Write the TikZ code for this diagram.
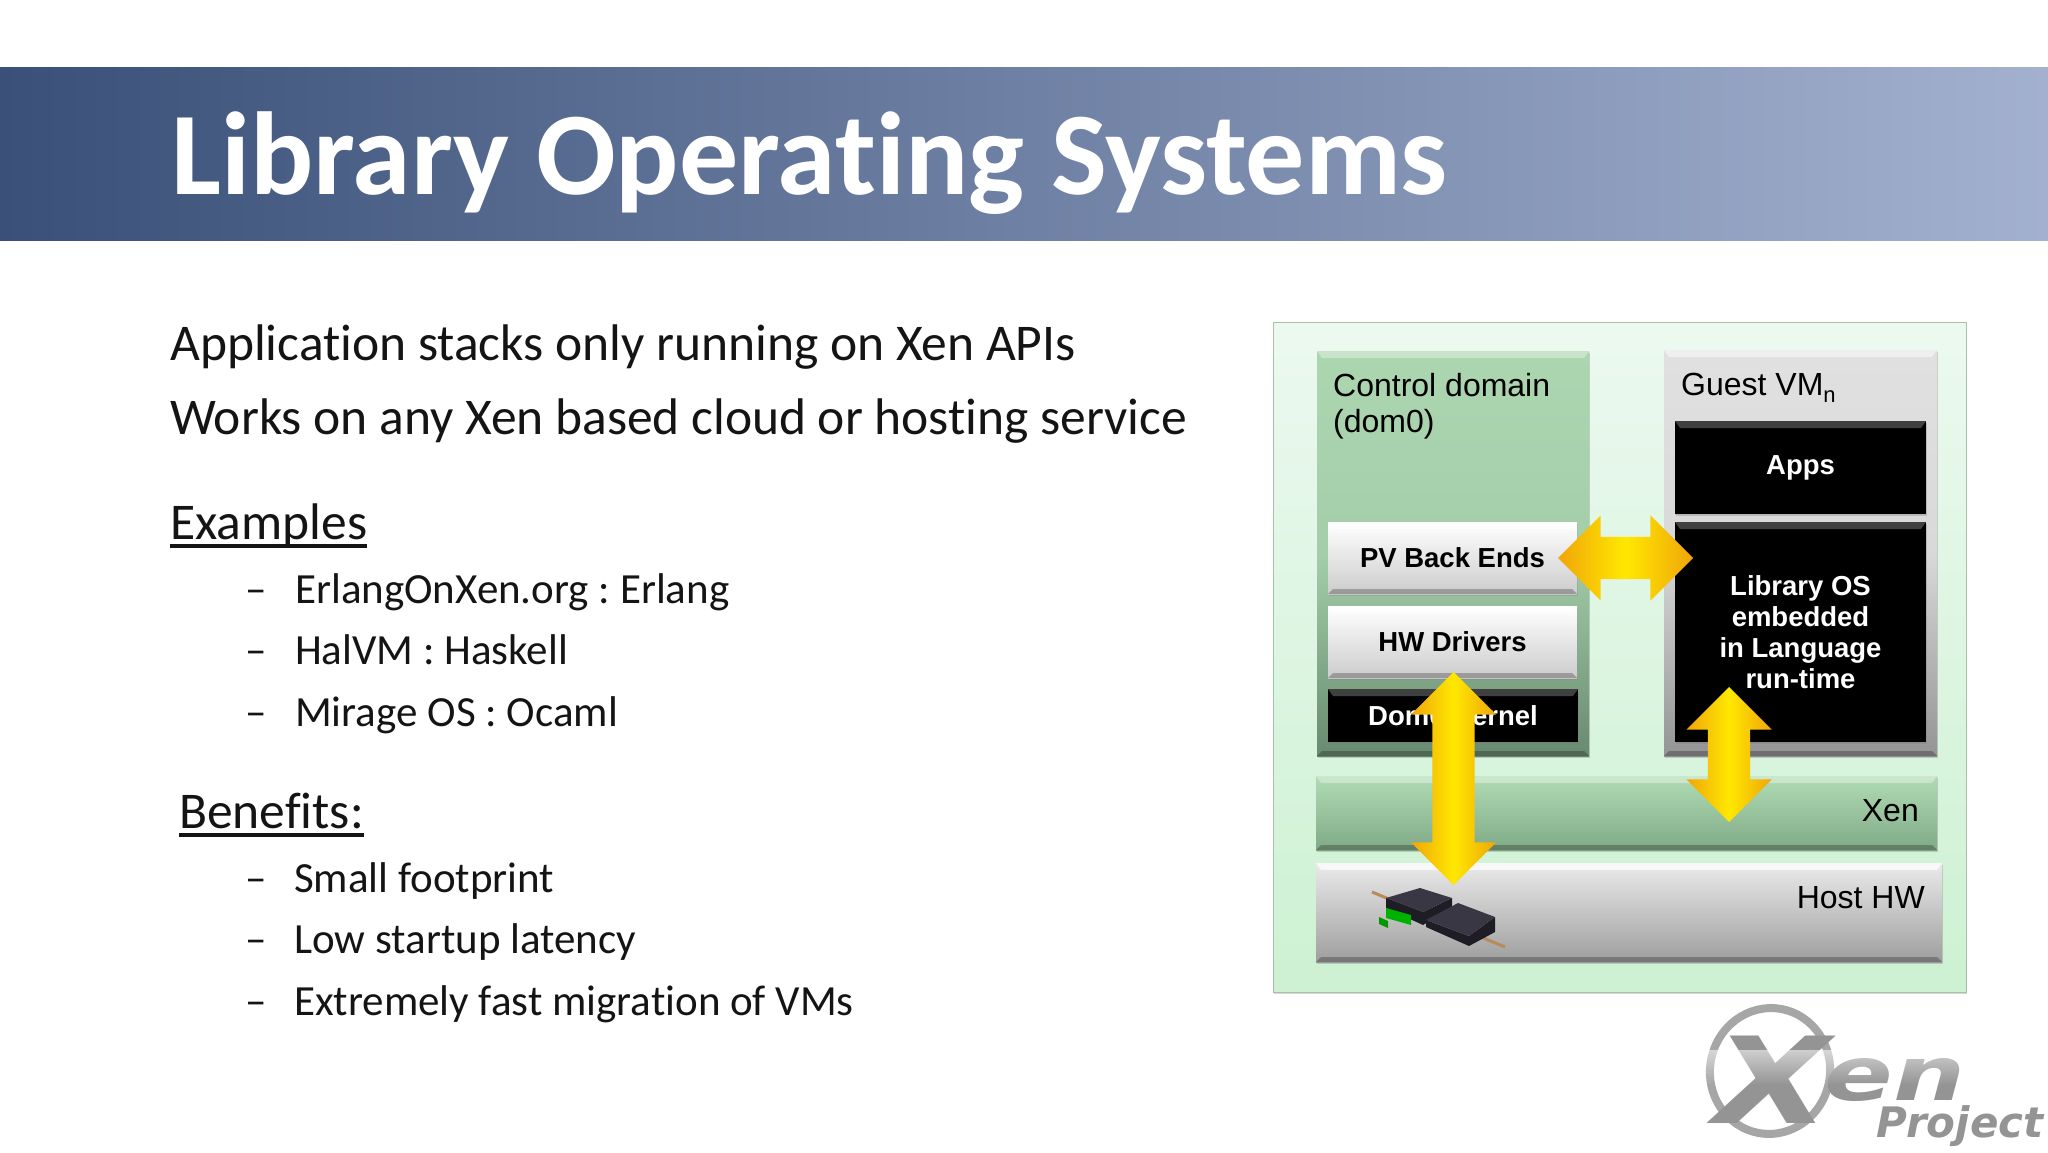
\documentclass[tikz,border=0pt]{standalone}
\usepackage{fontspec}
\setmainfont[Ligatures=CommonOff]{Carlito}
\newfontfamily\arialfont{Liberation Sans}
\newfontfamily\logofont{DejaVu Sans}
\usetikzlibrary{shapes.arrows,shadows,fadings}
\definecolor{bandl}{RGB}{58,80,120}
\definecolor{bandr}{RGB}{163,177,207}
\definecolor{panelt}{RGB}{236,249,240}
\definecolor{panelb}{RGB}{205,241,210}
\definecolor{goldl}{RGB}{240,165,10}
\definecolor{goldm}{RGB}{255,232,0}
\definecolor{inktxt}{RGB}{20,20,20}
\definecolor{domt}{RGB}{172,214,176}
\definecolor{domm}{RGB}{164,206,169}
\definecolor{domb}{RGB}{104,138,112}
\definecolor{xent}{RGB}{176,220,180}
\definecolor{xenb}{RGB}{128,170,135}
\definecolor{devtop}{RGB}{58,55,68}
\definecolor{devside}{RGB}{30,28,36}
\definecolor{rail}{RGB}{184,140,90}
\frenchspacing
\begin{document}
\begin{tikzpicture}[x=1pt, y=-1pt,
                      heading/.style = {
                        anchor=base west, inner sep=0pt, text=white,
                        font=\fontsize{118}{118}\selectfont\bfseries
                      },
                      bodytext/.style = {
                        anchor=base west, inner sep=0pt, text=inktxt,
                        font=\fontsize{51.5}{52}\selectfont
                      },
                      subtext/.style = {
                        anchor=base west, inner sep=0pt, text=inktxt,
                        font=\fontsize{43}{44}\selectfont
                      },
                      underbar/.style = {
                        line width=3.5pt, color=inktxt
                      },
                      bevelbox/.style n args = {3}{
                        minimum width=#1, minimum height=#2, anchor=north west,
                        inner sep=0pt, outer sep=0pt,
                        path picture={
                          \fill[white, opacity=#3]
                            (path picture bounding box.north west) -- (path picture bounding box.north east)
                            -- ([xshift=-5pt,yshift=-7pt]path picture bounding box.north east)
                            -- ([xshift=5pt,yshift=-7pt]path picture bounding box.north west) -- cycle;
                          \fill[black, opacity=.25]
                            (path picture bounding box.south west) -- (path picture bounding box.south east)
                            -- ([xshift=-5pt,yshift=5pt]path picture bounding box.south east)
                            -- ([xshift=5pt,yshift=5pt]path picture bounding box.south west) -- cycle;
                        }
                      },
                      greenbox/.style = {
                        top color=domt, bottom color=domb, middle color=domm,
                        drop shadow={shadow xshift=1pt, shadow yshift=-2pt, opacity=.35}
                      },
                      greybox/.style = {
                        top color=black!12, bottom color=black!42,
                        middle color=black!15,
                        drop shadow={shadow xshift=1pt, shadow yshift=-2pt, opacity=.35}
                      },
                      whitebox/.style = {
                        top color=white, bottom color=black!20, text=black,
                        font=\arialfont\fontsize{27.5}{29}\selectfont\bfseries,
                        drop shadow={shadow xshift=1pt, shadow yshift=-2pt, opacity=.35}
                      },
                      blackbox/.style = {
                        fill=black, text=white, align=center,
                        font=\arialfont\fontsize{27.5}{31}\selectfont\bfseries,
                        drop shadow={shadow xshift=1pt, shadow yshift=-2pt, opacity=.35}
                      },
                      boxlabel/.style = {
                        inner sep=0pt, text=black, align=left,
                        font=\arialfont\fontsize{32}{36}\selectfont
                      },
                      bigarrow/.style = {
                        double arrow, double arrow head extend=21.5pt,
                        double arrow tip angle=90, inner xsep=0pt, inner ysep=21pt, outer sep=0pt,
                        left color=goldl, right color=goldl, middle color=goldm
                      },
                      logotext/.style = {
                        anchor=base, inner sep=0pt, text=black!42
                      }]
    \useasboundingbox (0,0) rectangle (2048,1153);
    \fill[white] (0,0) rectangle (2048,1153);

    % title band
    \node(band)[anchor=north west, inner sep=0pt, minimum width=2048pt, minimum height=173pt,
                left color=bandl, right color=bandr] at (0,67) {};
    \node(title)[heading] at (171,194) {Library Operating Systems};

    % left text
    \node(stacks)[bodytext] at (170,360.5) {Application stacks only running on Xen APIs};
    \node(works)[bodytext] at (170,434.5) {Works on any Xen based cloud or hosting service};
    \node(examples)[bodytext] at (170,539) {Examples};
    \draw[underbar] ([yshift=-7pt]examples.base west) -- ([yshift=-7pt]examples.base east);
    \node(dasha)[subtext] at (245,603) {--};
    \node(erlang)[subtext] at (295,603) {ErlangOnXen.org : Erlang};
    \node(dashb)[subtext] at (245,664.5) {--};
    \node(halvm)[subtext] at (295,664.5) {HalVM : Haskell};
    \node(dashc)[subtext] at (245,726) {--};
    \node(mirage)[subtext] at (295,726) {Mirage OS : Ocaml};
    \node(benefits)[bodytext] at (179,828) {Benefits:};
    \draw[underbar] ([yshift=-7pt]benefits.base west) -- ([yshift=-7pt]benefits.base east);
    \node(dashd)[subtext] at (245,892) {--};
    \node(small)[subtext] at (294,892) {Small footprint};
    \node(dashe)[subtext] at (245,953) {--};
    \node(low)[subtext] at (294,953) {Low startup latency};
    \node(dashf)[subtext] at (245,1015) {--};
    \node(fast)[subtext] at (294,1015) {Extremely fast migration of VMs};

    % diagram
    \node(panel)[anchor=north west, inner sep=0pt, minimum width=693pt, minimum height=670pt,
                 draw=green!30!black!35!white, top color=panelt, bottom color=panelb,
                 drop shadow={shadow xshift=1pt, shadow yshift=-2pt, opacity=.3}] at (1273,322) {};

    \node(control)[greenbox, bevelbox={272pt}{405pt}{.35}] at (1317,351) {};
    \node(controllabel)[boxlabel, anchor=north west] at (1333,373) {Control domain\\(dom0)};
    \node(guest)[greybox, bevelbox={273pt}{406pt}{.5}] at (1664,350) {};
    \node(guestlabel)[boxlabel, anchor=north west] at (1681,373)
        {Guest VM\raisebox{-7pt}{\fontsize{22}{22}\selectfont n}};

    \node(apps)[blackbox, bevelbox={251pt}{93pt}{.25}] at (1675,421) {\raisebox{-5pt}{Apps}};
    \node(libos)[blackbox, bevelbox={251pt}{220pt}{.25}] at (1675,522) {Library OS\\embedded\\in Language\\run-time};
    \node(pv)[whitebox, bevelbox={249pt}{72pt}{.6}] at (1328,522) {PV Back Ends};
    \node(hw)[whitebox, bevelbox={249pt}{72pt}{.6}] at (1328,606) {\raisebox{-1pt}{HW Drivers}};
    \node(kernel)[blackbox, bevelbox={250pt}{53pt}{.25}] at (1328,689) {Dom0 Kernel};

    \node(xen)[bevelbox={621pt}{74pt}{.35}, top color=xent, bottom color=xenb,
               drop shadow={shadow xshift=1pt, shadow yshift=-2pt, opacity=.35}] at (1316,776) {};
    \node(xenlabel)[boxlabel, anchor=base east] at (1919,821) {Xen};
    \node(host)[bevelbox={626pt}{99pt}{.7}, top color=black!8, bottom color=black!38,
                drop shadow={shadow xshift=1pt, shadow yshift=-2pt, opacity=.35}] at (1316,863) {};
    \node(hostlabel)[boxlabel, anchor=base east] at (1925,908) {Host HW};

    % device in the host box
    \draw[line width=3pt, color=rail] (1372,892) -- (1505,947);
    \fill[devside] (1386,898) -- (1423,912) -- (1452,898) -- (1452,908) -- (1423,925) -- (1386,908) -- cycle;
    \fill[devtop] (1386,898) -- (1420,888) -- (1452,898) -- (1423,912) -- cycle;
    \fill[devside] (1426,920) -- (1469,936) -- (1495,917) -- (1495,932) -- (1469,946) -- (1426,927) -- cycle;
    \fill[devtop] (1426,920) -- (1458,903) -- (1495,917) -- (1469,936) -- cycle;
    \fill[green!70!black] (1386,908) -- (1411,915) -- (1411,925) -- (1386,918) -- cycle;
    \fill[green!60!black] (1379,917) -- (1388,921) -- (1388,928) -- (1379,924) -- cycle;

    % arrows
    \node(arrowpv)[bigarrow, minimum height=135pt] at (1625.5,558) {};
    \node(arrowhw)[bigarrow, minimum height=213pt, rotate=90] at (1453.5,778.5) {};
    \node(arrowlib)[bigarrow, minimum height=135pt, rotate=90] at (1729,754.5) {};

    % logo
    \draw[line width=8pt, color=black!35, rotate around={-10:(1770,1071)}] (1770,1071) ellipse (60pt and 63pt);
    \node(logox)[logotext, xscale=1.25, font=\logofont\fontsize{120}{120}\selectfont\bfseries\itshape] at (1772,1123) {X};
    \node(logoen)[logotext, xscale=1.35, font=\logofont\fontsize{75}{75}\selectfont\bfseries\itshape] at (1895,1100) {en};
    \node(logoproject)[logotext, font=\logofont\fontsize{42}{42}\selectfont\bfseries\itshape] at (1960,1137) {Project};
    \fill[white, path fading=south, fill opacity=.55] (1700,1050) rectangle (2048,1085);
  \end{tikzpicture}
\end{document}
